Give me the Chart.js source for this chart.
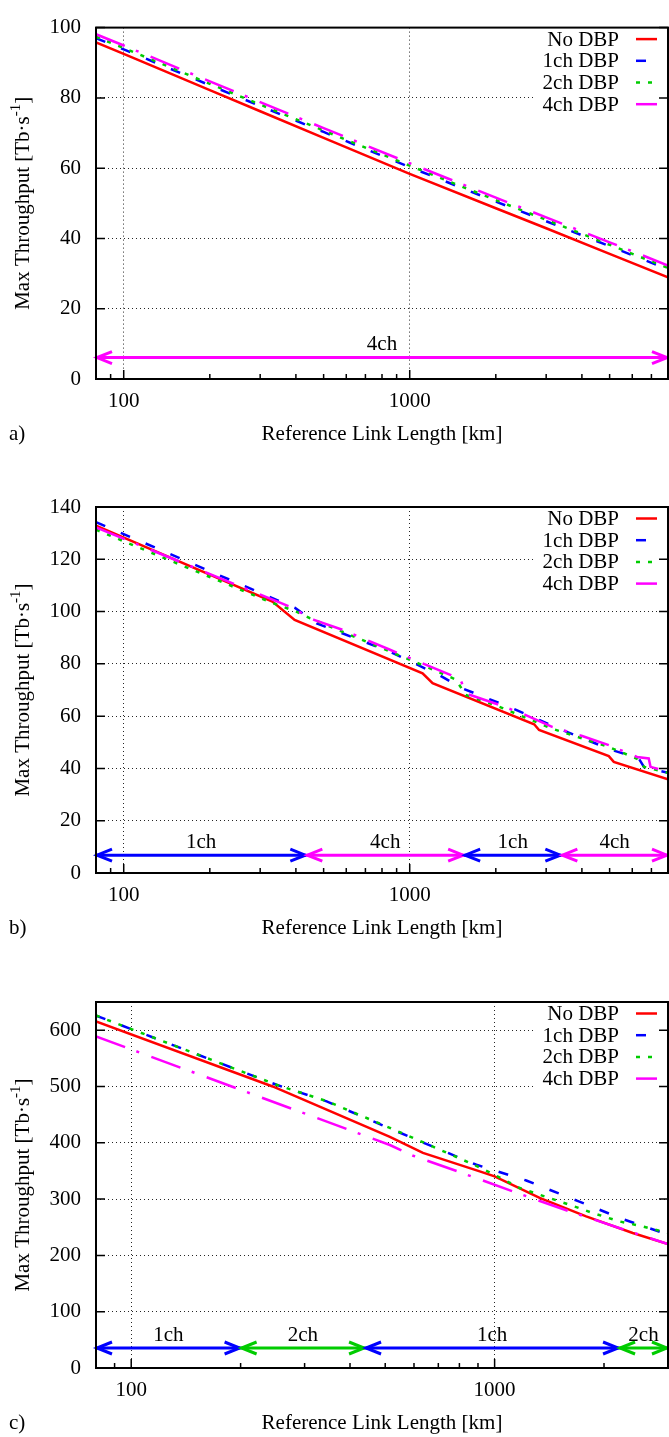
<!DOCTYPE html>
<html>
<head>
<meta charset="utf-8">
<script src="https://cdn.jsdelivr.net/npm/chart.js@4/dist/chart.umd.min.js"></script>
<style>
  html, body { margin: 0; padding: 0; background: #fff; }
  #wrap { position: relative; width: 669px; height: 1437px; }
  canvas { position: absolute; left: 0; }
</style>
</head>
<body>
<div id="wrap">
  <canvas id="chartA" width="669" height="450" style="top:0px"></canvas>
  <canvas id="chartB" width="669" height="494" style="top:450px"></canvas>
  <canvas id="chartC" width="669" height="493" style="top:944px"></canvas>
</div>
<script>
// series shared by all three panels
const seriesLabels = ['No DBP', '1ch DBP', '2ch DBP', '4ch DBP'];
const seriesColors = ['#ff0000', '#0000ff', '#00cc00', '#ff00ff'];
const seriesDash = [[], [10, 17], [4, 8], [31, 12, 3, 13]];

// x axis ticks
const xMajor = [100, 1000];
const xMinorLong = [90, 200, 300, 400, 500, 600, 700, 800, 900, 2000, 3000, 4000, 5000, 6000, 7000];
const xMinorShort = [90, 200, 300, 400, 500, 600, 700, 800, 900, 2000];

// a) throughput vs link length
const aX = [80, 100, 200, 300, 500, 1000, 2000, 3000, 5000, 8000];
const aNoDbp = [95.8, 92.5, 82.2, 76.2, 68.6, 58.4, 48.6, 42.9, 35.6, 28.9];
const a1ch = [97.0, 93.8, 83.6, 77.7, 70.3, 60.3, 50.5, 44.9, 37.8, 31.2];
const a2ch = [97.4, 94.2, 84.0, 78.1, 70.7, 60.7, 50.9, 45.3, 38.2, 31.6];
const a4ch = [98.1, 94.9, 84.7, 78.8, 71.4, 61.4, 51.6, 46.0, 38.9, 32.3];
const aYTicks = [0, 20, 40, 60, 80, 100];
const aArrowFrom = [80];
const aArrowTo = [8000];
const aArrowText = ['4ch'];
const aArrowColor = ['#ff00ff'];

// b)
const bNoDbpX = [80, 331, 396, 1109, 1202, 2723, 2833, 4966, 5171, 8000];
const bNoDbpY = [132.9, 103.8, 96.8, 76.4, 72.6, 56.9, 54.7, 44.7, 42.5, 35.8];
const b1chX = [80, 396, 473, 849, 1038, 1268, 1531, 2286, 3412, 5105, 6324, 6600, 8000];
const b1chY = [134.2, 101.5, 95.5, 84.7, 80.2, 75.7, 70.6, 63.0, 54.7, 47.0, 43.8, 40.5, 38.3];
const b2chX = [80, 331, 401, 447, 849, 1109, 1450, 1570, 2056, 3148, 4966, 6237, 6600, 8000];
const b2chY = [131.3, 103.3, 100.0, 97.5, 84.8, 79.5, 74.0, 68.1, 63.6, 55.2, 48.2, 43.7, 40.6, 38.3];
const b4chX = [80, 380, 463, 583, 849, 1109, 1393, 1510, 1570, 2056, 2547, 3148, 4009, 4966, 6237, 6850, 6950, 8000];
const b4chY = [132.2, 101.9, 96.8, 93.0, 85.5, 80.2, 75.7, 73.6, 68.7, 64.3, 60.4, 55.9, 52.4, 48.9, 44.4, 43.8, 40.6, 38.7];
const bYTicks = [0, 20, 40, 60, 80, 100, 120, 140];
const bArrowFrom = [80, 435, 1550, 3390];
const bArrowTo = [435, 1550, 3390, 8000];
const bArrowText = ['1ch', '4ch', '1ch', '4ch'];
const bArrowColor = ['#0000ff', '#ff00ff', '#0000ff', '#ff00ff'];

// c)
const cNoDbpX = [80, 245, 515, 635, 910, 1000, 1330, 1786, 2399, 3000];
const cNoDbpY = [615.6, 500, 410.3, 381.9, 349.2, 340.3, 302, 269.3, 239.8, 220];
const c1chX = [80, 251, 345, 504, 656, 891, 1222, 1676, 2275, 3000];
const c1chY = [625.8, 503, 473.6, 428, 396.6, 361, 333, 297.7, 263.4, 237];
const c2chX = [80, 251, 345, 504, 656, 891, 1000, 1172, 1387, 1607, 1862, 2203, 2553, 3000];
const c2chY = [626, 503, 474, 429, 397, 359, 343, 319.7, 303.7, 290, 275.3, 260.4, 251.5, 240];
const c4chX = [80, 515, 597, 793, 1122, 1600, 2275, 3000];
const c4chY = [589, 396, 377, 349, 313.7, 278.5, 245.6, 220];
const cYTicks = [0, 100, 200, 300, 400, 500, 600];
const cArrowFrom = [80, 200, 440, 2200];
const cArrowTo = [200, 440, 2200, 3000];
const cArrowText = ['1ch', '2ch', '1ch', '2ch'];
const cArrowColor = ['#0000ff', '#00cc00', '#0000ff', '#00cc00'];

const FONT = '"Liberation Serif", "Times New Roman", serif';
Chart.defaults.font.family = FONT;
Chart.defaults.font.size = 21;
Chart.defaults.color = '#000';

const gridColor = 'rgba(0,0,0,0.85)';

function pts(xs, ys) {
    return xs.map((v, i) => ({ x: v, y: ys[i] }));
}

function drawArrowHead(ctx, tipX, y, dir) {
    ctx.beginPath();
    ctx.moveTo(tipX + dir * 15, y - 6);
    ctx.lineTo(tipX, y);
    ctx.lineTo(tipX + dir * 15, y + 6);
    ctx.stroke();
}

function makePanel(id, p) {
    const datasets = p.series.map((s, i) => ({
        label: seriesLabels[i],
        data: pts(s[0], s[1]),
        borderColor: seriesColors[i],
        borderWidth: 2.5,
        borderDash: seriesDash[i],
        pointRadius: 0,
        fill: false,
        tension: 0,
        order: 3 - i
    }));

    const decor = {
        id: 'decor',
        afterDraw(chart) {
            const { ctx, chartArea: ca } = chart;
            const xs = chart.scales.x, ys = chart.scales.y;
            const big = '21px ' + FONT, small = '15px ' + FONT;
            ctx.save();

            // legend box (gnuplot style: text then sample)
            ctx.fillStyle = '#fff';
            ctx.fillRect(533, ca.top + 1, ca.right - 534, 91);
            chart.data.datasets.forEach((ds, i) => {
                const yy = ca.top + 11.5 + i * 21.7;
                ctx.font = big;
                ctx.fillStyle = '#000';
                ctx.textAlign = 'right';
                ctx.textBaseline = 'middle';
                ctx.fillText(ds.label, 619, yy + 1);
                ctx.strokeStyle = ds.borderColor;
                ctx.lineWidth = ds.borderWidth;
                ctx.setLineDash(ds.borderDash);
                ctx.beginPath();
                ctx.moveTo(636, yy);
                ctx.lineTo(657, yy);
                ctx.stroke();
            });
            ctx.setLineDash([]);

            // channel range arrows
            const ay = ys.getPixelForValue(p.arrowY);
            p.arrowFrom.forEach((f, i) => {
                const x0 = xs.getPixelForValue(f);
                const x1 = xs.getPixelForValue(p.arrowTo[i]);
                ctx.strokeStyle = p.arrowColor[i];
                ctx.lineWidth = 3;
                ctx.beginPath();
                ctx.moveTo(x0, ay);
                ctx.lineTo(x1, ay);
                ctx.stroke();
                drawArrowHead(ctx, x0 + 1, ay, 1);
                drawArrowHead(ctx, x1 - 1, ay, -1);
                const mid = Math.sqrt(f * p.arrowTo[i]);
                ctx.fillStyle = '#000';
                ctx.textAlign = 'center';
                ctx.textBaseline = 'middle';
                ctx.font = big;
                ctx.fillText(p.arrowText[i], xs.getPixelForValue(mid), ay - 13);
            });

            // frame
            ctx.strokeStyle = '#000';
            ctx.lineWidth = 2;
            ctx.strokeRect(ca.left, ca.top, ca.right - ca.left, ca.bottom - ca.top);

            // inward tick marks
            ctx.lineWidth = 1.5;
            ctx.beginPath();
            p.yTicks.forEach(v => {
                const py = ys.getPixelForValue(v);
                ctx.moveTo(ca.left, py); ctx.lineTo(ca.left + 9, py);
                ctx.moveTo(ca.right, py); ctx.lineTo(ca.right - 9, py);
            });
            xMajor.forEach(v => {
                const px = xs.getPixelForValue(v);
                ctx.moveTo(px, ca.bottom); ctx.lineTo(px, ca.bottom - 9);
            });
            p.xMinor.forEach(v => {
                const px = xs.getPixelForValue(v);
                ctx.moveTo(px, ca.bottom); ctx.lineTo(px, ca.bottom - 5);
            });
            ctx.stroke();

            // y axis title with superscript
            ctx.translate(29, (ca.top + ca.bottom) / 2);
            ctx.rotate(-Math.PI / 2);
            ctx.fillStyle = '#000';
            ctx.textAlign = 'left';
            ctx.textBaseline = 'alphabetic';
            const t1 = 'Max Throughput [Tb\u00b7s', t2 = '-1', t3 = ']';
            ctx.font = big; const w1 = ctx.measureText(t1).width, w3 = ctx.measureText(t3).width;
            ctx.font = small; const w2 = ctx.measureText(t2).width;
            const sx = -(w1 + w2 + w3) / 2;
            ctx.font = big; ctx.fillText(t1, sx, 0);
            ctx.font = small; ctx.fillText(t2, sx + w1, -9);
            ctx.font = big; ctx.fillText(t3, sx + w1 + w2, 0);
            ctx.setTransform(1, 0, 0, 1, 0, 0);

            // panel letter
            ctx.font = big;
            ctx.textAlign = 'left';
            ctx.textBaseline = 'middle';
            ctx.fillText(p.letter, 9, chart.height - 12.6 - p.titlePad);
            ctx.restore();
        }
    };

    return new Chart(document.getElementById(id), {
        type: 'line',
        data: { datasets: datasets },
        options: {
            responsive: false,
            animation: false,
            devicePixelRatio: 1,
            events: [],
            layout: { padding: { top: p.plotTop, right: 1, left: 0, bottom: 0 } },
            plugins: {
                legend: { display: false },
                tooltip: { enabled: false }
            },
            scales: {
                x: {
                    type: 'logarithmic',
                    min: 80,
                    max: p.xMax,
                    afterBuildTicks: s => { s.ticks = xMajor.map(v => ({ value: v })); },
                    afterFit: s => { s.height = p.xAxisH; },
                    ticks: {
                        autoSkip: false,
                        maxRotation: 0,
                        padding: 9.5,
                        color: '#000',
                        callback: v => String(v)
                    },
                    grid: { color: gridColor, lineWidth: 1, drawTicks: false },
                    border: { display: false, dash: [1, 3] },
                    title: {
                        display: true,
                        text: 'Reference Link Length [km]',
                        color: '#000',
                        padding: { top: 0, bottom: p.titlePad }
                    }
                },
                y: {
                    min: 0,
                    max: p.yMax,
                    afterBuildTicks: s => { s.ticks = p.yTicks.map(v => ({ value: v })); },
                    afterFit: s => { s.width = 96; },
                    ticks: { padding: 15, color: '#000' },
                    grid: { color: gridColor, lineWidth: 1, drawTicks: false },
                    border: { display: false, dash: [1, 3] }
                }
            }
        },
        plugins: [decor]
    });
}

makePanel('chartA', {
    letter: 'a)', plotTop: 13, xAxisH: 71, titlePad: 3.4, xMax: 8000, yMax: 100,
    yTicks: aYTicks, xMinor: xMinorLong,
    series: [[aX, aNoDbp], [aX, a1ch], [aX, a2ch], [aX, a4ch]],
    arrowY: 6.1, arrowFrom: aArrowFrom, arrowTo: aArrowTo, arrowText: aArrowText, arrowColor: aArrowColor
});

makePanel('chartB', {
    letter: 'b)', plotTop: 57, xAxisH: 71, titlePad: 3.4, xMax: 8000, yMax: 140,
    yTicks: bYTicks, xMinor: xMinorLong,
    series: [[bNoDbpX, bNoDbpY], [b1chX, b1chY], [b2chX, b2chY], [b4chX, b4chY]],
    arrowY: 6.8, arrowFrom: bArrowFrom, arrowTo: bArrowTo, arrowText: bArrowText, arrowColor: bArrowColor
});

makePanel('chartC', {
    letter: 'c)', plotTop: 58, xAxisH: 69, titlePad: 1.4, xMax: 3000, yMax: 650,
    yTicks: cYTicks, xMinor: xMinorShort,
    series: [[cNoDbpX, cNoDbpY], [c1chX, c1chY], [c2chX, c2chY], [c4chX, c4chY]],
    arrowY: 35.5, arrowFrom: cArrowFrom, arrowTo: cArrowTo, arrowText: cArrowText, arrowColor: cArrowColor
});
</script>
</body>
</html>
